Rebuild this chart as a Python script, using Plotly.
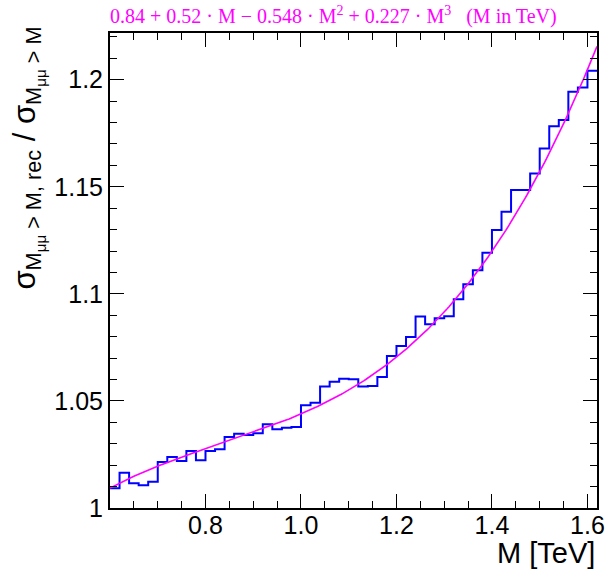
import numpy as np
import plotly.graph_objects as go

# ---- data ----
bin_low = 0.60
bin_width = 0.02
ratio_values = [
    1.0092, 1.0165, 1.0115, 1.0106, 1.0123, 1.0215, 1.0238, 1.0220, 1.0266, 1.0223,
    1.0266, 1.0274, 1.0332, 1.0347, 1.0341, 1.0349, 1.0391, 1.0368, 1.0375, 1.0378,
    1.0480, 1.0492, 1.0567, 1.0589, 1.0604, 1.0601, 1.0567, 1.0570, 1.0612, 1.0710,
    1.0757, 1.0799, 1.0894, 1.0858, 1.0886, 1.0895, 1.0975, 1.1045, 1.1110, 1.1192,
    1.1298, 1.1383, 1.1485, 1.1485, 1.1562, 1.1679, 1.1782, 1.1812, 1.1944, 1.1964,
    1.2042,
]
# cubic fit curve as drawn (c0 + c1 M + c2 M^2 + c3 M^3)
fit_coeffs = [0.8157, 0.62094, -0.65371, 0.26097]
fit_range = [0.60, 1.62]
x_tickvals = [0.8, 1.0, 1.2, 1.4, 1.6]
x_ticktext = ["0.8", "1.0", "1.2", "1.4", "1.6"]
y_tickvals = [1.0, 1.05, 1.1, 1.15, 1.2]
y_ticktext = ["1", "1.05", "1.1", "1.15", "1.2"]
fit_label = ("0.84 + 0.52 · M − 0.548 · M<sup>2</sup> + 0.227 · M<sup>3</sup>"
             "   (M in TeV)")

# ---- build ----
n = len(ratio_values)
edges = np.round(bin_low + bin_width * np.arange(n + 1), 4)
hx = list(edges)
hy = list(ratio_values) + [ratio_values[-1]]

mx = np.linspace(fit_range[0], fit_range[1], 300)
my = sum(c * mx ** i for i, c in enumerate(fit_coeffs))

fig = go.Figure()
fig.add_trace(go.Scatter(x=hx, y=hy, mode="lines", line=dict(color="#0000ff", width=2, shape="hv"),
                         showlegend=False, hoverinfo="skip"))
fig.add_trace(go.Scatter(x=mx, y=my, mode="lines", line=dict(color="#ff00ff", width=1.6),
                         showlegend=False, hoverinfo="skip"))

axis_common = dict(showgrid=False, zeroline=False, showline=True, linecolor="black", linewidth=2,
                   mirror="allticks", ticks="inside", tickcolor="black", tickwidth=1.3,
                   tickfont=dict(family="Liberation Sans", size=25, color="black"))

fig.update_xaxes(range=[0.60, 1.62], tickvals=x_tickvals, ticktext=x_ticktext, ticklen=14,
                 ticklabelstandoff=-6,
                 minor=dict(dtick=0.05, tick0=0.6, ticklen=7, ticks="inside", tickcolor="black", tickwidth=1.3),
                 **axis_common)
fig.update_yaxes(range=[1.0, 1.2218], tickvals=y_tickvals, ticktext=y_ticktext, ticklen=14,
                 minor=dict(dtick=0.01, tick0=1.0, ticklen=7, ticks="inside", tickcolor="black", tickwidth=1.3),
                 **axis_common)

fig.update_layout(
    width=612, height=577,
    margin=dict(l=110, r=7, t=33, b=69),
    plot_bgcolor="white", paper_bgcolor="white",
    annotations=[
        dict(text=fit_label, xref="paper", yref="paper", x=-0.004, y=1.036, xanchor="left", yanchor="middle",
             showarrow=False, font=dict(family="Liberation Serif", size=20, color="#ff00ff")),
        dict(text="M [TeV]", xref="paper", yref="paper", x=1.0, y=-0.095, xanchor="right", yanchor="middle",
             showarrow=False, font=dict(family="Liberation Sans", size=29, color="black")),
        dict(text="σ<sub>M<sub>μμ</sub> > M, rec</sub> / σ<sub>M<sub>μμ</sub> > M</sub>",
             xref="paper", yref="paper", x=-0.168, y=0.736, xanchor="center", yanchor="middle",
             textangle=-90, showarrow=False, font=dict(family="Liberation Sans", size=31, color="black")),
    ],
)

fig.write_html("out.html")
